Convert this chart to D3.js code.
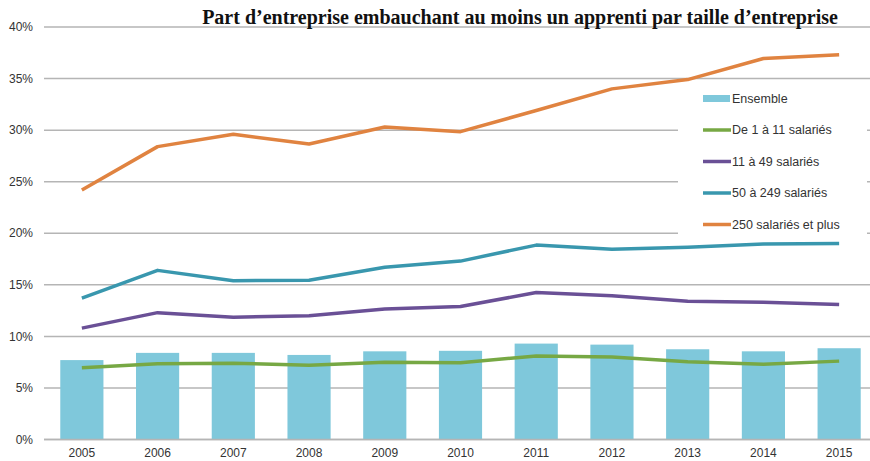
<!DOCTYPE html>
<html><head><meta charset="utf-8">
<script src="https://cdn.jsdelivr.net/npm/d3@7"></script>
<style>body{margin:0;background:#fff}svg{display:block}</style>
</head><body>
<svg id="c" width="870" height="461"></svg>
<script>
const years = ["2005","2006","2007","2008","2009","2010","2011","2012","2013","2014","2015"];
const ensemble = [7.7, 8.4, 8.4, 8.2, 8.55, 8.6, 9.3, 9.2, 8.75, 8.55, 8.85];
const de1a11 = [6.95, 7.35, 7.4, 7.2, 7.5, 7.45, 8.1, 8.0, 7.55, 7.3, 7.6];
const de11a49 = [10.8, 12.3, 11.85, 12.0, 12.65, 12.9, 14.25, 13.95, 13.4, 13.3, 13.1];
const de50a249 = [13.7, 16.4, 15.4, 15.45, 16.7, 17.3, 18.85, 18.45, 18.65, 18.95, 19.0];
const plus250 = [24.2, 28.4, 29.6, 28.65, 30.3, 29.85, 31.9, 34.0, 34.9, 36.95, 37.3];
const yTicks = [0, 5, 10, 15, 20, 25, 30, 35, 40];
const title = "Part d’entreprise embauchant au moins un apprenti par taille d’entreprise";
const seriesNames = ["Ensemble", "De 1 à 11 salariés", "11 à 49 salariés", "50 à 249 salariés", "250 salariés et plus"];

const colors = {bar:"#7fc8db", green:"#77a844", purple:"#6a5096", teal:"#3997ae", orange:"#e08340"};
const lines = [
  {vals: de1a11, color: colors.green},
  {vals: de11a49, color: colors.purple},
  {vals: de50a249, color: colors.teal},
  {vals: plus250, color: colors.orange}
];

const svg = d3.select("#c");
const x = d3.scaleBand().domain(years).range([44, 877]).paddingInner(0.43).paddingOuter(0.215);
const y = d3.scaleLinear().domain([0, 40]).range([439.5, 27]);

// grid
svg.append("g").selectAll("line").data(yTicks).join("line")
  .attr("x1", 44).attr("x2", 870)
  .attr("y1", d => y(d)).attr("y2", d => y(d))
  .attr("stroke", "#b5b5b5").attr("stroke-width", 1.5);

// y labels
svg.append("g").selectAll("text").data(yTicks).join("text")
  .attr("x", 33).attr("y", d => y(d)).attr("dy", "0.35em")
  .attr("text-anchor", "end")
  .attr("font-family", "Liberation Sans, Arial, sans-serif").attr("font-size", 12)
  .attr("fill", "#333").text(d => d + "%");

// bars
svg.append("g").selectAll("rect").data(ensemble).join("rect")
  .attr("x", (d, i) => x(years[i])).attr("width", x.bandwidth())
  .attr("y", d => y(d)).attr("height", d => y(0) - y(d))
  .attr("fill", colors.bar);

// redraw 0 axis line on top
svg.append("line").attr("x1", 44).attr("x2", 870).attr("y1", y(0)).attr("y2", y(0))
  .attr("stroke", "#b5b5b5").attr("stroke-width", 1.5);

// x labels
svg.append("g").selectAll("text").data(years).join("text")
  .attr("x", d => x(d) + x.bandwidth() / 2).attr("y", 453).attr("dy", "0.35em")
  .attr("text-anchor", "middle")
  .attr("font-family", "Liberation Sans, Arial, sans-serif").attr("font-size", 12)
  .attr("fill", "#333").text(d => d);

// legend background
const lg = svg.append("g");
lg.append("rect").attr("x", 678).attr("y", 84).attr("width", 189).attr("height", 156).attr("fill", "#fff");

// lines
const lineGen = d3.line().x((d, i) => x(years[i]) + x.bandwidth() / 2).y(d => y(d));
svg.append("g").selectAll("path").data(lines).join("path")
  .attr("d", d => lineGen(d.vals)).attr("fill", "none")
  .attr("stroke", d => d.color).attr("stroke-width", 3.5)
  .attr("stroke-linejoin", "round").attr("stroke-linecap", "butt");

// legend items
const legColors = [colors.bar, colors.green, colors.purple, colors.teal, colors.orange];
const legY = [98.5, 130, 161.5, 193, 224.5];
seriesNames.forEach((n, i) => {
  if (i === 0) {
    lg.append("rect").attr("x", 703).attr("y", legY[i] - 3.5).attr("width", 27).attr("height", 7).attr("fill", legColors[i]);
  } else {
    lg.append("line").attr("x1", 703).attr("x2", 731).attr("y1", legY[i]).attr("y2", legY[i])
      .attr("stroke", legColors[i]).attr("stroke-width", 3.5);
  }
  lg.append("text").attr("x", 732).attr("y", legY[i]).attr("dy", "0.35em")
    .attr("font-family", "Liberation Sans, Arial, sans-serif").attr("font-size", 12.5)
    .attr("fill", "#333").text(n);
});

// title
svg.append("text").attr("x", 520).attr("y", 24).attr("text-anchor", "middle")
  .attr("font-family", "Liberation Serif, Times New Roman, serif").attr("font-weight", "bold")
  .attr("font-size", 20).attr("fill", "#111").text(title);
</script>
</body></html>
